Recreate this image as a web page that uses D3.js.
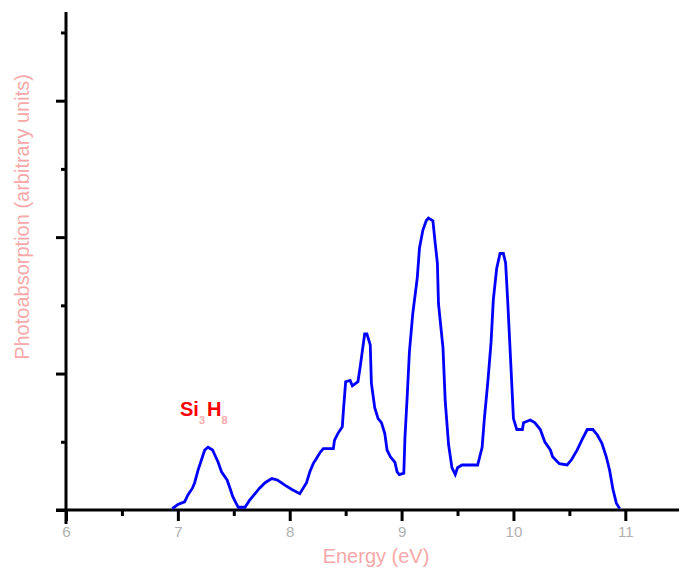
<!DOCTYPE html>
<html lang="en">
<head>
<meta charset="UTF-8">
<title>Photoabsorption</title>
<script src="https://cdn.jsdelivr.net/npm/d3@7/dist/d3.min.js"></script>
<style>
    body { margin: 0; background: #fff; }
    text { font-family: "Liberation Sans", Arial, sans-serif; }
</style>
</head>
<body>
<div id="chart"></div>
<script>
// spectrum
const energy = [6.95, 7.00, 7.06, 7.09, 7.13, 7.15, 7.18, 7.22, 7.24, 7.27, 7.31, 7.36, 7.39, 7.44, 7.47, 7.49, 7.52, 7.54,
    7.60, 7.64, 7.69, 7.73, 7.78, 7.84, 7.89, 7.96, 8.02, 8.09, 8.15, 8.18, 8.21, 8.24, 8.27, 8.30, 8.39, 8.40, 8.43, 8.47,
    8.48, 8.50, 8.54, 8.56, 8.61, 8.63, 8.65, 8.67, 8.69, 8.72, 8.73, 8.76, 8.79, 8.82, 8.85, 8.87, 8.90, 8.94, 8.96, 8.98,
    9.02, 9.03, 9.05, 9.07, 9.10, 9.14, 9.16, 9.19, 9.22, 9.24, 9.28, 9.30, 9.32, 9.33, 9.37, 9.39, 9.42, 9.45, 9.48, 9.50,
    9.54, 9.68, 9.72, 9.74, 9.77, 9.80, 9.82, 9.85, 9.88, 9.91, 9.93, 9.95, 9.98, 10.00, 10.03, 10.08, 10.09, 10.15, 10.19,
    10.24, 10.28, 10.33, 10.35, 10.41, 10.48, 10.52, 10.57, 10.61, 10.66, 10.71, 10.75, 10.79, 10.83, 10.86, 10.89, 10.92, 10.95];
const intensity = [0.01, 0.04, 0.06, 0.11, 0.16, 0.20, 0.29, 0.39, 0.44, 0.46, 0.44, 0.35, 0.28, 0.22, 0.15, 0.10, 0.05, 0.02,
    0.02, 0.07, 0.12, 0.16, 0.20, 0.23, 0.22, 0.18, 0.15, 0.12, 0.20, 0.28, 0.34, 0.38, 0.42, 0.45, 0.45, 0.51, 0.56, 0.61,
    0.73, 0.94, 0.95, 0.91, 0.94, 1.05, 1.17, 1.29, 1.29, 1.21, 0.93, 0.75, 0.67, 0.64, 0.56, 0.44, 0.39, 0.35, 0.28, 0.26,
    0.27, 0.53, 0.83, 1.16, 1.44, 1.70, 1.92, 2.05, 2.12, 2.14, 2.12, 1.96, 1.81, 1.51, 1.19, 0.80, 0.48, 0.31, 0.26, 0.31,
    0.33, 0.33, 0.46, 0.67, 0.93, 1.23, 1.54, 1.77, 1.88, 1.88, 1.81, 1.51, 1.01, 0.67, 0.59, 0.59, 0.64, 0.66, 0.64,
    0.59, 0.50, 0.44, 0.39, 0.34, 0.33, 0.37, 0.44, 0.51, 0.59, 0.59, 0.55, 0.49, 0.39, 0.29, 0.15, 0.05, 0.01];
const xMajor = [6, 7, 8, 9, 10, 11];
const xMinor = [6.5, 7.5, 8.5, 9.5, 10.5, 11.5];
const yMajor = [0, 1, 2, 3];
const yMinor = [0.5, 1.5, 2.5, 3.5];
const xTitle = 'Energy (eV)';
const yTitle = 'Photoabsorption (arbitrary units)';

const width = 680, height = 571;
const margin = { top: 12, right: 1, bottom: 61, left: 66 };

const svg = d3.select('#chart').append('svg')
    .attr('width', width)
    .attr('height', height);

const x = d3.scaleLinear()
    .domain([6, 11.48])
    .range([margin.left, width - margin.right]);

const y = d3.scaleLinear()
    .domain([0, 3.65])
    .range([height - margin.bottom, margin.top]);

// x axis, major + minor ticks
const xAxisG = svg.append('g')
    .attr('transform', `translate(0,${height - margin.bottom})`);
xAxisG.call(d3.axisBottom(x).tickValues(xMajor).tickSize(11).tickSizeOuter(0).tickFormat(d3.format('d')));
xAxisG.append('g').call(d3.axisBottom(x).tickValues(xMinor).tickSize(6).tickFormat(''))
    .call(g => g.select('.domain').remove());
xAxisG.selectAll('.domain').attr('stroke', '#000').attr('stroke-width', 3)
    .attr('d', `M${margin.left - 10},0H${width - margin.right}`);
xAxisG.selectAll('.tick line').attr('stroke', '#000').attr('stroke-width', 3);
xAxisG.selectAll('.tick text').attr('fill', '#b0b0b0').attr('font-size', 15)
    .attr('font-family', '"Liberation Sans", Arial, sans-serif').attr('y', 13).attr('dy', '0.9em');

// y axis
const yAxisG = svg.append('g')
    .attr('transform', `translate(${margin.left},0)`);
yAxisG.call(d3.axisLeft(y).tickValues(yMajor).tickSize(10).tickSizeOuter(0).tickFormat(''));
yAxisG.append('g').call(d3.axisLeft(y).tickValues(yMinor).tickSize(5).tickFormat(''))
    .call(g => g.select('.domain').remove());
yAxisG.selectAll('.domain').attr('stroke', '#000').attr('stroke-width', 3)
    .attr('d', `M0,${margin.top}V${height - margin.bottom + 14}`);
yAxisG.selectAll('.tick line').attr('stroke', '#000').attr('stroke-width', 3);

// spectrum
const pts = energy.map((e, i) => [e, intensity[i]]);
const line = d3.line().x(d => x(d[0])).y(d => y(d[1]));
svg.append('path')
    .attr('d', line(pts))
    .attr('fill', 'none')
    .attr('stroke', '#0000ff')
    .attr('stroke-width', 2.8)
    .attr('stroke-linejoin', 'miter');

// titles
svg.append('text')
    .attr('x', 376)
    .attr('y', 563)
    .attr('text-anchor', 'middle')
    .attr('font-size', 20)
    .attr('fill', '#f8a8a8')
    .text(xTitle);

svg.append('text')
    .attr('transform', `translate(29,217) rotate(-90)`)
    .attr('text-anchor', 'middle')
    .attr('font-size', 20)
    .attr('fill', '#f8a8a8')
    .text(yTitle);

// molecule label
const lab = svg.append('text')
    .attr('x', 180)
    .attr('y', 416)
    .attr('font-size', 20)
    .attr('font-weight', 'bold')
    .attr('fill', '#ff0000');
lab.append('tspan').text('Si');
lab.append('tspan').attr('font-size', 11).attr('dy', 8).attr('fill', '#f8a8a8').text('3');
lab.append('tspan').attr('dy', -8).attr('dx', 2).text('H');
lab.append('tspan').attr('font-size', 11).attr('dy', 8).attr('fill', '#f8a8a8').text('8');
</script>
</body>
</html>
